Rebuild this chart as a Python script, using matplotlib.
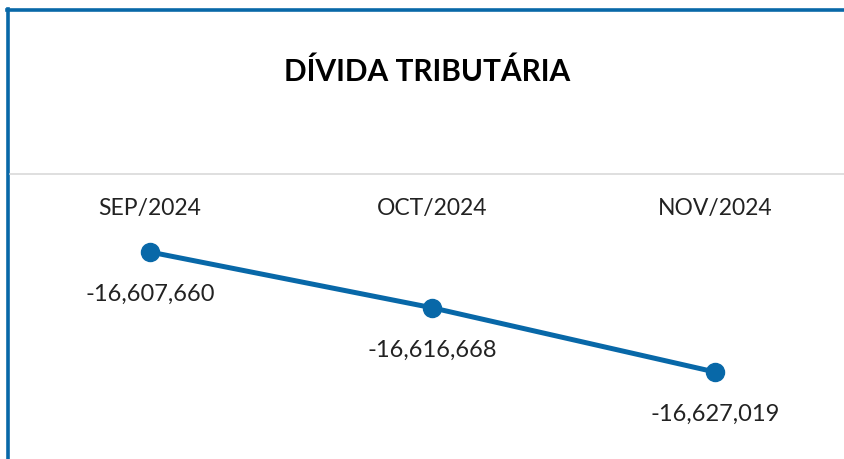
import matplotlib
matplotlib.use("Agg")
import matplotlib.pyplot as plt
from matplotlib.lines import Line2D
from matplotlib.transforms import blended_transform_factory

months = ["SEP/2024", "OCT/2024", "NOV/2024"]
values = [-16607660, -16616668, -16627019]
value_labels = ["-16,607,660", "-16,616,668", "-16,627,019"]

BLUE = "#0868a8"
W, H = 845, 460

plt.rcParams["font.family"] = ["Lato", "DejaVu Sans"]

fig = plt.figure(figsize=(W / 100, H / 100), dpi=100)
fig.patch.set_facecolor("white")

# plotting area: x 150..715 px, y 253..373 px (from top)
ax = fig.add_axes([150 / W, (H - 373) / H, (715 - 150) / W, 120 / H])
ax.set_xlim(0, 2)
ax.set_ylim(min(values), max(values))
ax.axis("off")

x = list(range(len(months)))
ax.plot(x, values, color=BLUE, lw=3.6, marker="o", ms=13, clip_on=False,
        solid_capstyle="round")

for xi, v, lab in zip(x, values, value_labels):
    ax.annotate(lab, (xi, v), xytext=(0, -30), textcoords="offset points",
                ha="center", va="center", fontsize=17, color="#222222")

trans = blended_transform_factory(ax.transData, fig.transFigure)
for xi, m in zip(x, months):
    ax.text(xi, 1 - 208 / H, m, transform=trans, ha="center", va="center",
            fontsize=16.5, color="#222222")

fig.text(427 / W, 1 - 72 / H, "DÍVIDA TRIBUTÁRIA", ha="center", va="center",
         fontsize=21.5, fontweight="bold", color="black")

# frame lines
fig.add_artist(Line2D([8.5 / W, 8.5 / W], [0, 1 - 10 / H], color=BLUE, lw=2.6,
                      transform=fig.transFigure))
fig.add_artist(Line2D([7 / W, 1], [1 - 11 / H, 1 - 11 / H], color=BLUE, lw=2.6,
                      transform=fig.transFigure))
fig.add_artist(Line2D([10 / W, 1], [1 - 175 / H, 1 - 175 / H], color="#d9d9d9",
                      lw=1.2, transform=fig.transFigure))

fig.savefig("out.png", dpi=100, facecolor="white")
